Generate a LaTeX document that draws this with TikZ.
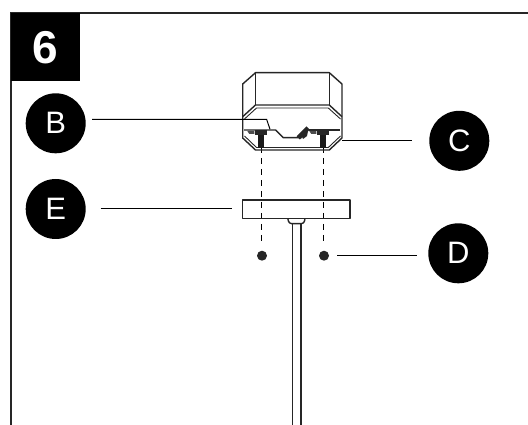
\documentclass[tikz,border=0pt]{standalone}
\usepackage{fontspec}
\setmainfont{Liberation Sans}
\tikzset{
  x=1pt,y=-1pt,
  ln/.style={draw=black!85,line width=1.4pt,line join=round},
  thin ln/.style={draw=black!85,line width=.9pt},
  leader/.style={draw=black,line width=1pt},
  badge/.style={circle,fill=black,minimum size=60pt,inner sep=0pt,text=white,font=\fontsize{31}{31}\selectfont},
  dashline/.style={draw=black,line width=1.4pt,dash pattern=on 6.5pt off 4.5pt},
  bolt/.style={circle,fill=black!85,minimum size=10pt,inner sep=0pt},
}
\begin{document}
\begin{tikzpicture}
\useasboundingbox (0,0) rectangle (528,425);
% frame
\draw[draw=black!85,line width=2pt] (11,425) -- (11,13) -- (528,13);
\node[fill=black,minimum width=69pt,minimum height=68pt,inner sep=0pt,anchor=north west,text=white,font=\fontsize{46}{46}\bfseries\selectfont] (hdr) at (11,13) {6};
% badges
\node[badge] (B) at (55.7,123.3) {B};
\node[badge] (C) at (459.3,140.8) {C};
\node[badge] (E) at (55.7,209) {E};
\node[badge] (D) at (458.3,253.3) {D};
% dashed lines
\coordinate (s1) at (261.3,147);
\coordinate (s2) at (323.3,147);
\node[bolt] (b1) at (262,255.7) {};
\node[bolt] (b2) at (324,255.7) {};
\draw[dashline] (s1) -- (261.3,244);
\draw[dashline] (s2) -- (323.3,244);
% housing
\draw[ln] (255.5,72.7) -- (329.3,72.7) -- (342,84) -- (342,138) -- (329.3,150) -- (255.5,150) -- (242.7,138) -- (242.7,84) -- cycle;
\draw[ln] (255.5,72.7) -- (255.5,105);
\draw[ln] (329.3,72.7) -- (329.3,105);
\draw[ln] (242.7,116.7) -- (255.5,105) -- (329.3,105) -- (342,116.7);
\draw[thin ln] (244.5,119) -- (256.5,108) -- (328.3,108) -- (340.5,119);
\draw[thin ln] (244.5,136) -- (256.5,147.5) -- (328.3,147.5) -- (340.5,136);
% bracket
\draw[ln] (244,130) -- (275.7,130) -- (283.3,137.7) -- (301.7,137.7);
\draw[ln] (309.3,130) -- (340,130);
\draw[fill=black!85,draw=none,rotate around={-45:(303,133.5)}] (300.5,126) rectangle (305,140);
\draw[fill=black!85,draw=none] (301,135) -- (308,131) -- (307,136) -- (303,139) -- cycle;
% screws
\foreach \x in {261.3,323.3}{
  \fill[black!90] (\x-3,132) rectangle (\x+3,148);
  \fill[black!85] (\x-6,130.5) rectangle (\x+6,135);
  \fill[black!70] (\x-14,131) -- (\x-7,131) -- (\x-7,134) -- (\x-12,134) -- cycle;
}
% plate
\draw[ln] (242.7,200) rectangle (350,218.3);
% stem
\draw[ln,rounded corners=2.5pt] (287.8,218.3) -- (289,223.6) -- (304,223.6) -- (305,218.3);
\draw[ln] (287.8,218.3) -- (305,218.3);
\draw[ln] (292.5,224) -- (292.5,425);
\draw[ln] (301,224) -- (301,425);
% leaders
\coordinate (lB) at (92,119.5);
\coordinate (cB) at (270,129.3);
\coordinate (cC) at (342,140.7);
\coordinate (lC) at (412,140.7);
\coordinate (lE) at (100.5,209);
\coordinate (cE) at (232,209);
\coordinate (cD) at (337,255.7);
\coordinate (lD) at (417,255.7);
\draw[leader] (lB) -- (266.7,119.5) -- (cB);
\draw[leader] (cC) -- (lC);
\draw[leader] (lE) -- (cE);
\draw[leader] (cD) -- (lD);
\end{tikzpicture}
\end{document}
